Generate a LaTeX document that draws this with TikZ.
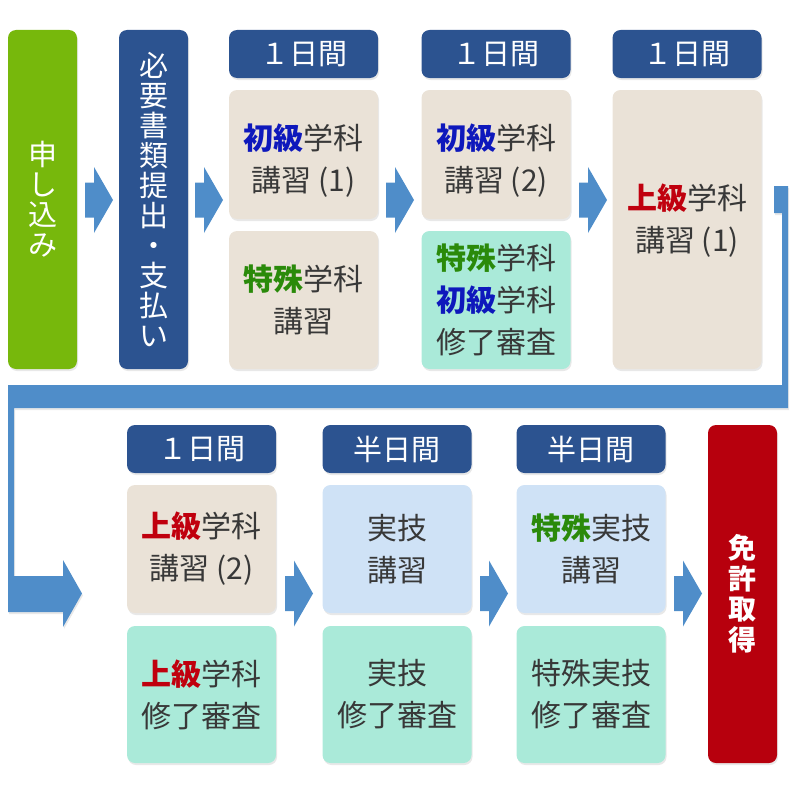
\documentclass[tikz,border=0pt]{standalone}
\usepackage{fontspec}
\setmainfont{Noto Sans CJK JP}
\usetikzlibrary{shadows}
\definecolor{leaf}{HTML}{77B80C}
\definecolor{navy}{HTML}{2C5390}
\definecolor{sand}{HTML}{EAE2D7}
\definecolor{mint}{HTML}{AAEAD9}
\definecolor{sky}{HTML}{CFE2F6}
\definecolor{crimson}{HTML}{B7000D}
\definecolor{flow}{HTML}{4F8DC9}
\definecolor{ink}{HTML}{383838}
\definecolor{kyublue}{HTML}{0E18BC}
\definecolor{tokugreen}{HTML}{2A8A0A}
\definecolor{jored}{HTML}{C0000E}
\newcommand{\shokyu}{{\bfseries\color{kyublue}初級}}
\newcommand{\joukyu}{{\bfseries\color{jored}上級}}
\newcommand{\tokushu}{{\bfseries\color{tokugreen}特殊}}
\begin{document}
\begin{tikzpicture}[x=1pt, y=-1pt, line join=round,
    shade/.style={drop shadow={opacity=.18, shadow xshift=1pt, shadow yshift=-2pt}},
    box/.style={shade, rounded corners=8pt, minimum width=149pt, inner sep=0pt, align=center, text=ink, font=\fontsize{30}{42}\selectfont},
    head/.style={box, fill=navy, text=white, minimum height=48pt, font=\fontsize{29}{30}\selectfont},
    tall/.style={box, minimum width=69pt, minimum height=339pt, text=white, font=\fontsize{29}{30}\selectfont},
    barrow/.pic={\fill[flow] (0,-17.5) -- (9,-17.5) -- (9,-33) -- (28,0) -- (9,33) -- (9,17.5) -- (0,17.5) -- cycle;}]
  \useasboundingbox (0,0) rectangle (800,800);
  % bent connector from the first row down to the second
  \fill[flow, shade] (774,186) -- (788,186) -- (788,408) -- (14,408) -- (14,576) -- (63,576) -- (63,560)
    -- (82,593.5) -- (63,627) -- (63,612) -- (8,612) -- (8,385) -- (782,385) -- (782,213) -- (774,213) -- cycle;
  % first row
  \node[tall, fill=leaf] (apply) at (42.5,199.5) {申\\し\\込\\み};
  \node[tall, fill=navy] (papers) at (153.5,199.5) {必\\要\\書\\類\\提\\出\\・\\支\\払\\い};
  \node[head] (h1) at (303.5,54) {１日間};
  \node[box, fill=sand, minimum height=129pt] (c1a) at (303.5,154.5) {\\[-4pt]\shokyu 学科\\講習 (1)};
  \node[box, fill=sand, minimum height=138pt] (c1b) at (303.5,300) {\tokushu 学科\\講習};
  \node[head] (h2) at (496,54) {１日間};
  \node[box, fill=sand, minimum height=129pt] (c2a) at (496,154.5) {\\[-4pt]\shokyu 学科\\講習 (2)};
  \node[box, fill=mint, minimum height=138pt] (c2b) at (496,300) {\tokushu 学科\\\shokyu 学科\\修了審査};
  \node[head] (h3) at (687,54) {１日間};
  \node[box, fill=sand, minimum height=279pt] (c3) at (687,229.5) {\joukyu 学科\\講習 (1)\\[-18pt]\mbox{}};
  \pic at (85,200) {barrow};
  \pic at (195,200) {barrow};
  \pic at (386,200) {barrow};
  \pic at (579,200) {barrow};
  % second row
  \node[head] (h4) at (201.5,449) {１日間};
  \node[box, fill=sand, minimum height=128pt] (d1a) at (201.5,549) {\joukyu 学科\\講習 (2)};
  \node[box, fill=mint, minimum height=137pt] (d1b) at (201.5,694.5) {\joukyu 学科\\修了審査};
  \node[head] (h5) at (397,449) {半日間};
  \node[box, fill=sky, minimum height=128pt] (d2a) at (397,549) {実技\\講習};
  \node[box, fill=mint, minimum height=137pt] (d2b) at (397,694.5) {実技\\修了審査};
  \node[head] (h6) at (591,449) {半日間};
  \node[box, fill=sky, minimum height=128pt] (d3a) at (591,549) {\tokushu 実技\\講習};
  \node[box, fill=mint, minimum height=137pt] (d3b) at (591,694.5) {特殊実技\\修了審査};
  \node[tall, fill=crimson, minimum height=338pt, font=\fontsize{28}{30.5}\selectfont\bfseries] (license) at (742.5,594) {免\\許\\取\\得};
  \pic at (285,593.5) {barrow};
  \pic at (480,593.5) {barrow};
  \pic at (674,593.5) {barrow};
\end{tikzpicture}
\end{document}
